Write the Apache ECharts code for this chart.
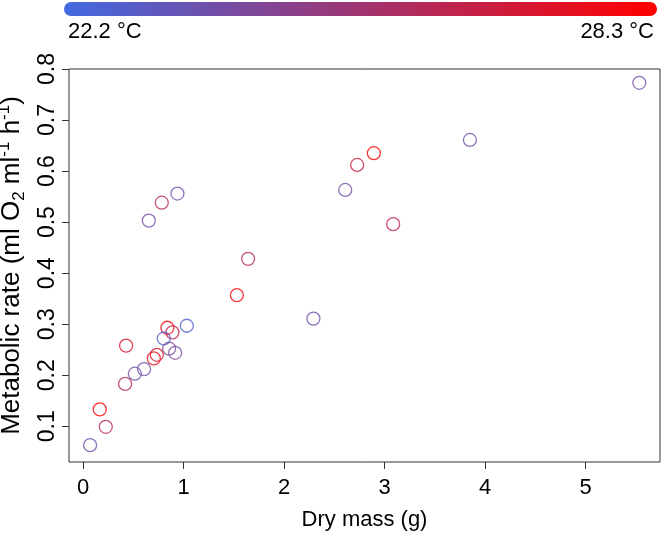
<!DOCTYPE html>
<html>
<head>
<meta charset="utf-8">
<script src="https://cdn.jsdelivr.net/npm/echarts@6/dist/echarts.min.js"></script>
<style>html,body{margin:0;padding:0;background:#fff}#c{width:664px;height:533px}</style>
</head>
<body>
<div id="c"></div>
<script>
// Data
const dryMass = [0.939,0.783,0.654,1.642,1.530,1.032,0.839,0.889,0.803,0.428,0.856,0.916,0.734,0.704,0.607,0.515,0.418,0.166,0.226,0.070,5.534,3.849,2.893,2.727,2.608,3.085,2.292];
const metRate = [0.556,0.538,0.503,0.428,0.357,0.297,0.293,0.284,0.272,0.258,0.252,0.244,0.240,0.233,0.212,0.203,0.183,0.133,0.099,0.063,0.773,0.661,0.635,0.612,0.563,0.496,0.311];
const temperature = [23.7,25.9,23.7,25.9,28.0,22.8,28.0,26.2,22.8,27.1,24.0,24.0,27.1,27.4,23.7,23.7,25.9,28.3,25.9,23.7,23.7,23.7,28.3,26.5,23.7,26.2,23.7];
const tempRange = [22.2, 28.3];
const tempLabels = ['22.2 °C', '28.3 °C'];
const xTicks = [0,1,2,3,4,5];
const yTicks = [0.1,0.2,0.3,0.4,0.5,0.6,0.7,0.8];

const lowCol = [65,105,225], highCol = [255,0,0];
function tempColor(t){
  const f = (t - tempRange[0])/(tempRange[1]-tempRange[0]);
  const c = lowCol.map((v,i)=>Math.round(v + (highCol[i]-v)*f));
  return 'rgb(' + c.join(',') + ')';
}

const points = dryMass.map((x,i)=>({
  value:[x, metRate[i]],
  itemStyle:{color:'rgba(0,0,0,0)', borderColor: tempColor(temperature[i]), borderWidth:1.3}
}));

const FONT = 'Liberation Sans, Arial, Helvetica, sans-serif';
const FS = 22;
const YT = 26;
const chart = echarts.init(document.getElementById('c'), null, {renderer:'canvas'});
chart.setOption({
  animation:false,
  backgroundColor:'#fff',
  grid:{left:69, right:4, top:69, bottom:71, show:true, borderColor:'#333', borderWidth:1,
        containLabel:false, outerBoundsMode:'none'},
  xAxis:{
    type:'value', min:-0.14, max:5.74,
    axisLine:{show:false, onZero:false},
    splitLine:{show:false},
    axisTick:{show:true, inside:false, length:7, customValues:xTicks, lineStyle:{color:'#333'}},
    axisLabel:{customValues:xTicks, margin:15, fontSize:FS, color:'#000', fontFamily:FONT},
    name:'Dry mass (g)', nameLocation:'middle', nameGap:47,
    nameTextStyle:{fontSize:FS, color:'#000', fontFamily:FONT}
  },
  yAxis:{
    type:'value', min:0.03, max:0.8,
    axisLine:{show:false, onZero:false},
    splitLine:{show:false},
    axisTick:{show:true, inside:false, length:7, customValues:yTicks, lineStyle:{color:'#333'}},
    axisLabel:{customValues:yTicks, rotate:90, margin:10, fontSize:23, color:'#000', fontFamily:FONT,
      formatter:v=>v.toFixed(1)},
    name:'{m|Metabolic rate (ml O}{s|2}{m| ml}{p|-1}{m| h}{p|-1}{m|)}',
    nameLocation:'middle', nameRotate:90, nameGap:38,
    nameTextStyle:{fontSize:YT, color:'#000', fontFamily:FONT,
      rich:{
        m:{fontSize:YT, fontFamily:FONT, color:'#000', lineHeight:32, verticalAlign:'middle'},
        s:{fontSize:17, fontFamily:FONT, color:'#000', lineHeight:32, verticalAlign:'bottom'},
        p:{fontSize:17, fontFamily:FONT, color:'#000', lineHeight:32, verticalAlign:'top'}
      }}
  },
  series:[{
    type:'scatter',
    symbol:'circle',
    symbolSize:13,
    data:points
  }],
  graphic:[
    {type:'rect', shape:{x:64, y:2, width:593, height:14, r:7},
     style:{fill:new echarts.graphic.LinearGradient(0,0,1,0,[
       {offset:0, color:tempColor(tempRange[0])},
       {offset:1, color:tempColor(tempRange[1])}])}},
    {type:'text', left:68, top:21, style:{text:tempLabels[0], fill:'#000', font:FS + 'px ' + FONT}},
    {type:'text', right:10, top:21, style:{text:tempLabels[1], fill:'#000', font:FS + 'px ' + FONT}}
  ]
});
</script>
</body>
</html>
